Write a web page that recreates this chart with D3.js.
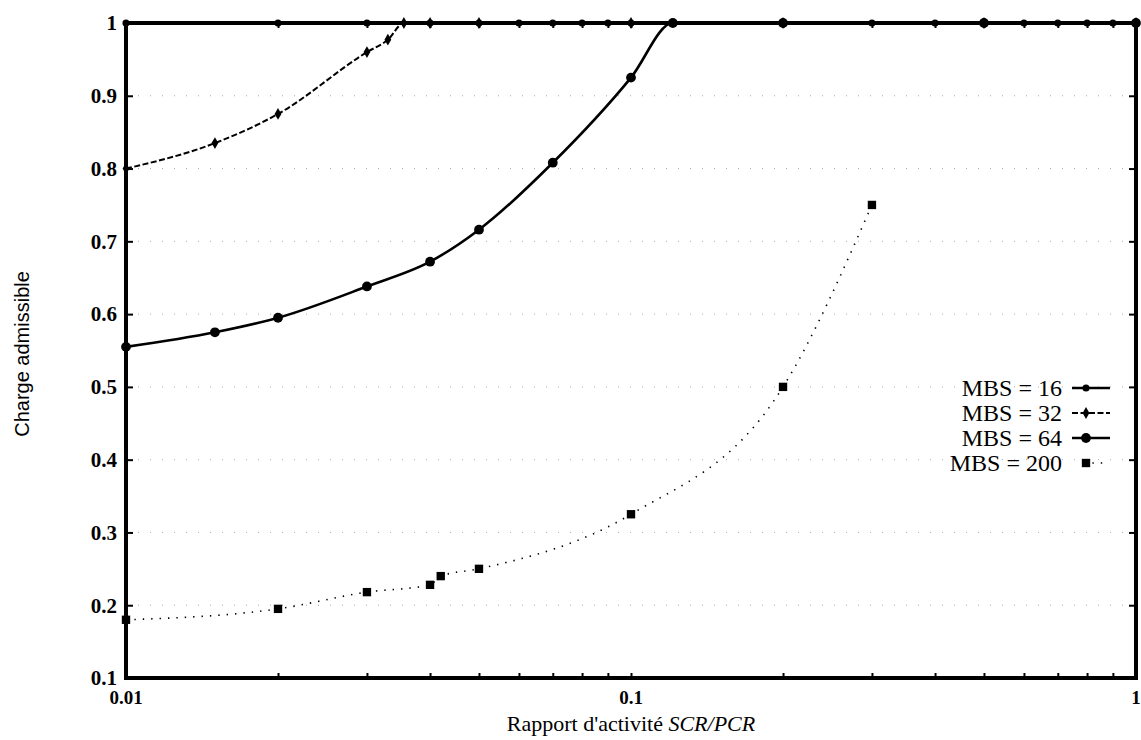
<!DOCTYPE html>
<html>
<head>
<meta charset="utf-8">
<script src="https://cdn.jsdelivr.net/npm/d3@7"></script>
<style>
  html, body { margin: 0; padding: 0; background: #fff; }
  svg { display: block; }
</style>
</head>
<body>
<svg id="chart" width="1141" height="740"></svg>
<script>
// Ratio SCR/PCR (log axis) against admissible load for four MBS values
const xTickValues = [0.01, 0.1, 1];
const xTickLabels = ["0.01", "0.1", "1"];
const yTickValues = [0.1, 0.2, 0.3, 0.4, 0.5, 0.6, 0.7, 0.8, 0.9, 1];
const yTickLabels = ["0.1", "0.2", "0.3", "0.4", "0.5", "0.6", "0.7", "0.8", "0.9", "1"];

const mbs16X = [0.01, 0.02, 0.03, 0.04, 0.05, 0.06, 0.07, 0.08, 0.09, 0.1, 0.2, 0.3, 0.4, 0.5, 0.6, 0.7, 0.8, 0.9, 1];
const mbs16Y = [1, 1, 1, 1, 1, 1, 1, 1, 1, 1, 1, 1, 1, 1, 1, 1, 1, 1, 1];

const mbs32X = [0.01, 0.015, 0.02, 0.03, 0.033, 0.0355, 0.04, 0.05, 0.1, 0.2, 0.5, 1];
const mbs32Y = [0.8, 0.835, 0.875, 0.96, 0.977, 1, 1, 1, 1, 1, 1, 1];

const mbs64X = [0.01, 0.015, 0.02, 0.03, 0.04, 0.05, 0.07, 0.1, 0.121, 0.2, 0.5, 1];
const mbs64Y = [0.555, 0.575, 0.595, 0.638, 0.672, 0.716, 0.808, 0.925, 1, 1, 1, 1];

const mbs200X = [0.01, 0.02, 0.03, 0.04, 0.042, 0.05, 0.1, 0.2, 0.3];
const mbs200Y = [0.18, 0.195, 0.218, 0.228, 0.24, 0.25, 0.325, 0.5, 0.75];

const seriesNames = ["MBS = 16", "MBS = 32", "MBS = 64", "MBS = 200"];

const svg = d3.select("#chart");
const plotLeft = 126, plotRight = 1136, plotTop = 23, plotBottom = 678;

const x = d3.scaleLog().domain([0.01, 1]).range([plotLeft, plotRight]);
const y = d3.scaleLinear().domain([0.1, 1]).range([plotBottom, plotTop]);

const serif = "'Liberation Serif', 'Times New Roman', serif";
const sans = "'Liberation Sans', Arial, sans-serif";

// faint dotted horizontal grid
svg.append("g")
  .selectAll("line")
  .data(yTickValues.slice(1, -1))
  .join("line")
  .attr("x1", plotLeft).attr("x2", plotRight)
  .attr("y1", d => y(d)).attr("y2", d => y(d))
  .attr("stroke", "#aaa")
  .attr("stroke-width", 1)
  .attr("stroke-dasharray", "1,11");

// axes with inward ticks
const minorX = [0.02, 0.03, 0.04, 0.05, 0.06, 0.07, 0.08, 0.09, 0.2, 0.3, 0.4, 0.5, 0.6, 0.7, 0.8, 0.9];

const axisBottom = svg.append("g").attr("transform", `translate(0,${plotBottom})`)
  .call(d3.axisBottom(x).tickValues(minorX.concat(xTickValues)).tickSize(-5).tickFormat(""));
const axisTop = svg.append("g").attr("transform", `translate(0,${plotTop})`)
  .call(d3.axisTop(x).tickValues(minorX.concat(xTickValues)).tickSize(-5).tickFormat(""));
const axisLeft = svg.append("g").attr("transform", `translate(${plotLeft},0)`)
  .call(d3.axisLeft(y).tickValues(yTickValues).tickSize(-7).tickFormat(""));
const axisRight = svg.append("g").attr("transform", `translate(${plotRight},0)`)
  .call(d3.axisRight(y).tickValues(yTickValues).tickSize(-7).tickFormat(""));
[axisBottom, axisTop, axisLeft, axisRight].forEach(g => {
  g.select(".domain").remove();
  g.selectAll(".tick line").attr("stroke", "#000").attr("stroke-width", 2);
});

// tick labels
svg.append("g")
  .selectAll("text")
  .data(yTickValues)
  .join("text")
  .attr("x", 117)
  .attr("y", d => y(d))
  .attr("dy", "0.35em")
  .attr("text-anchor", "end")
  .attr("font-family", serif)
  .attr("font-weight", "bold")
  .attr("font-size", 21)
  .text((d, i) => yTickLabels[i]);

svg.append("g")
  .selectAll("text")
  .data(xTickValues)
  .join("text")
  .attr("x", d => x(d))
  .attr("y", 704)
  .attr("text-anchor", "middle")
  .attr("font-family", serif)
  .attr("font-weight", "bold")
  .attr("font-size", 19)
  .text((d, i) => xTickLabels[i]);

// axis titles
const xTitle = svg.append("text")
  .attr("x", x(0.1))
  .attr("y", 731)
  .attr("text-anchor", "middle")
  .attr("font-family", serif)
  .attr("font-size", 22);
xTitle.append("tspan").text("Rapport d'activité ");
xTitle.append("tspan").attr("font-style", "italic").text("SCR/PCR");

svg.append("text")
  .attr("transform", "translate(29,354) rotate(-90)")
  .attr("text-anchor", "middle")
  .attr("font-family", sans)
  .attr("font-size", 20)
  .text("Charge admissible");

// series
const series = [
  { xs: mbs16X, ys: mbs16Y, width: 2.5, dash: null, symbol: d3.symbolCircle, size: 40 },
  { xs: mbs32X, ys: mbs32Y, width: 2, dash: "6,2.5", symbol: d3.symbolDiamond, size: 40 },
  { xs: mbs64X, ys: mbs64Y, width: 2.6, dash: null, symbol: d3.symbolCircle, size: 75 },
  { xs: mbs200X, ys: mbs200Y, width: 1.6, dash: "1.4,7", symbol: d3.symbolSquare, size: 70 }
];

const line = d3.line()
  .x(d => x(d[0]))
  .y(d => y(d[1]))
  .curve(d3.curveMonotoneX);

const plot = svg.append("g");
series.forEach(s => {
  const pts = s.xs.map((v, i) => [v, s.ys[i]]);
  plot.append("path")
    .datum(pts)
    .attr("d", line)
    .attr("fill", "none")
    .attr("stroke", "#000")
    .attr("stroke-width", s.width)
    .attr("stroke-dasharray", s.dash);
  plot.append("g")
    .selectAll("path")
    .data(pts)
    .join("path")
    .attr("transform", d => `translate(${x(d[0])},${y(d[1])})`)
    .attr("d", d3.symbol().type(s.symbol).size(s.size))
    .attr("fill", "#000");
});

// frame
svg.append("rect")
  .attr("x", plotLeft).attr("y", plotTop)
  .attr("width", plotRight - plotLeft).attr("height", plotBottom - plotTop)
  .attr("fill", "none")
  .attr("stroke", "#000")
  .attr("stroke-width", 4);

// legend
const legend = svg.append("g");
const legendY0 = 388, legendStep = 25;
seriesNames.forEach((name, i) => {
  const s = series[i];
  const ly = legendY0 + i * legendStep;
  legend.append("text")
    .attr("x", 1062)
    .attr("y", ly)
    .attr("dy", "0.35em")
    .attr("text-anchor", "end")
    .attr("font-family", serif)
    .attr("font-size", 24)
    .text(name);
  legend.append("line")
    .attr("x1", i === 3 ? 1084 : 1072).attr("x2", i === 3 ? 1106 : 1110)
    .attr("y1", ly).attr("y2", ly)
    .attr("stroke", "#000")
    .attr("stroke-width", s.width)
    .attr("stroke-dasharray", s.dash);
  legend.append("path")
    .attr("transform", `translate(1086,${ly})`)
    .attr("d", d3.symbol().type(s.symbol).size(s.size))
    .attr("fill", "#000");
});
</script>
</body>
</html>
